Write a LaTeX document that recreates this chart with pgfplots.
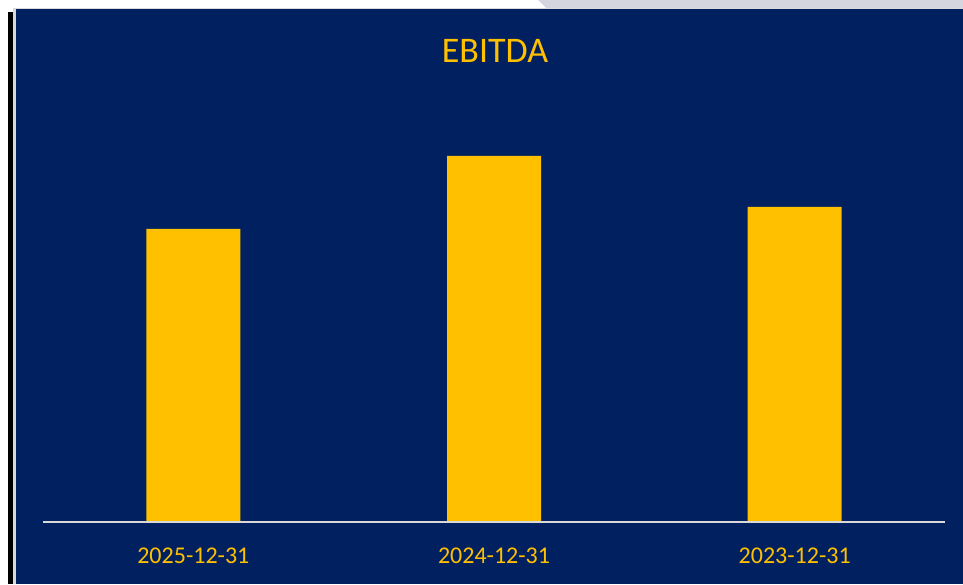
\documentclass[border=0pt]{standalone}
\usepackage{pgfplots}
\pgfplotsset{compat=1.18}
\usepackage{fontspec}
\setmainfont{Carlito}
\definecolor{navy}{HTML}{002060}
\definecolor{gold}{HTML}{FFC000}
\definecolor{rulegray}{HTML}{D9D9D9}
\definecolor{lav}{HTML}{D5D5E0}
\begin{document}
\begin{tikzpicture}[x=1pt,y=1pt]
\useasboundingbox (0,0) rectangle (963,584);
% frame around the chart area
\fill[white] (0,0) rectangle (963,584);
\fill[lav] (538,584) -- (963,584) -- (963,576) -- (546,576) -- cycle;
\fill[black] (8,0) rectangle (13,572);
\fill[rulegray] (13,0) rectangle (963,576);
\fill[navy] (16,0) rectangle (963,575);
\node[anchor=base, text=gold, font=\fontsize{36}{40}\selectfont] at (495,521) {EBITDA};
\begin{axis}[
    at={(43pt,62pt)}, anchor=south west,
    scale only axis,
    width=902pt, height=422pt,
    xmin=-0.5, xmax=2.5,
    ymin=0, ymax=422,
    axis x line=bottom,
    axis y line=none,
    axis on top,
    axis line style={rulegray, line width=2.2pt, -},
    xtick={0,1,2},
    xticklabels={2025-12-31, 2024-12-31, 2023-12-31},
    major tick length=0pt,
    xticklabel style={anchor=base, yshift=-41pt, text=gold, font=\fontsize{24}{28}\selectfont},
    ytick=\empty,
    clip=false,
]
\addplot[ybar, bar width=94pt, fill=gold, draw=none, bar shift=0pt]
    coordinates {(0,293) (1,366) (2,315)};
\end{axis}
\end{tikzpicture}
\end{document}
